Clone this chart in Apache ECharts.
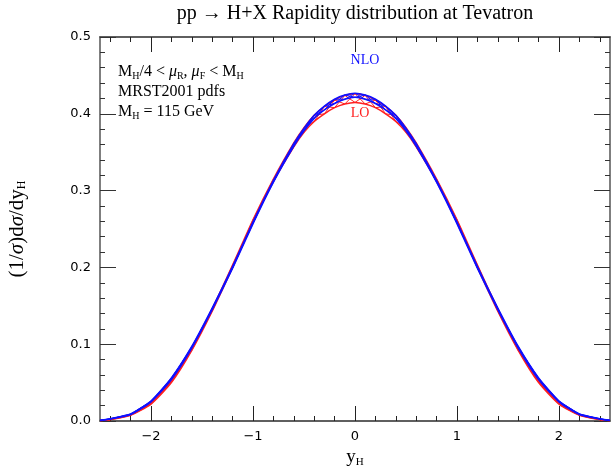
<!DOCTYPE html>
<html><head><meta charset="utf-8">
<script src="https://cdn.jsdelivr.net/npm/echarts@6/dist/echarts.min.js"></script>
<style>html,body{margin:0;padding:0;background:#fff}#c{width:611px;height:466px}</style>
</head><body><div id="c"></div>
<script>
// rapidity grid
const rapidity = [-2.5,-2.4,-2.2,-2.0,-1.8,-1.6,-1.4,-1.2,-1.0,-0.8,
  -0.6,-0.5,-0.4,-0.3,-0.2,-0.1,0,0.1,0.2,0.3,0.4,0.5,0.6,
  0.8,1.0,1.2,1.4,1.6,1.8,2.0,2.2,2.4,2.5];
// NLO band (blue)
const nloHigh = [0.0008,0.003,0.009,0.026,0.056,0.097,0.147,0.201,0.259,0.313,
  0.361,0.381,0.398,0.410,0.419,0.4245,0.4268,0.4245,0.419,0.410,0.398,0.381,0.361,
  0.313,0.259,0.201,0.147,0.097,0.056,0.026,0.009,0.003,0.0008];
const nloLow = [0.0006,0.0025,0.0085,0.025,0.054,0.095,0.145,0.199,0.257,0.311,
  0.358,0.378,0.394,0.405,0.4135,0.419,0.4215,0.419,0.4135,0.405,0.394,0.378,0.358,
  0.311,0.257,0.199,0.145,0.095,0.054,0.025,0.0085,0.0025,0.0006];
// LO band (red)
const loHigh = [0.0005,0.002,0.008,0.023,0.052,0.094,0.146,0.203,0.262,0.315,
  0.362,0.382,0.398,0.4095,0.418,0.424,0.4262,0.424,0.418,0.4095,0.398,0.382,0.362,
  0.315,0.262,0.203,0.146,0.094,0.052,0.023,0.008,0.002,0.0005];
const loLow = [0.0004,0.0018,0.0075,0.022,0.050,0.092,0.143,0.200,0.259,0.312,
  0.357,0.376,0.390,0.400,0.408,0.4128,0.4148,0.4128,0.408,0.400,0.390,0.376,0.357,
  0.312,0.259,0.200,0.143,0.092,0.050,0.022,0.0075,0.0018,0.0004];

const xMajorTicks = [-2,-1,0,1,2];
const xMinorTicks = [-2.4,-2.2,-1.8,-1.6,-1.4,-1.2,-0.8,-0.6,-0.4,-0.2,
  0.2,0.4,0.6,0.8,1.2,1.4,1.6,1.8,2.2,2.4];

const pairs = (ys) => rapidity.map((x, i) => [x, ys[i]]);
const zig = (a, b) => rapidity.map((x, i) => [x, i % 2 ? a[i] : b[i]]);

const axisColor = '#555';
const serif = 'Liberation Serif';

function lineSeries(data, color, width, smooth) {
  return { type: 'line', data, showSymbol: false, smooth: smooth, silent: true,
    lineStyle: { color, width }, animation: false, z: 3 };
}

const chart = echarts.init(document.getElementById('c'), null, { renderer: 'canvas' });

const baseX = {
  type: 'value', min: -2.5, max: 2.5, gridIndex: 0,
  splitLine: { show: false },
  axisLine: { show: true, onZero: false, lineStyle: { color: axisColor, width: 1.5 } }
};

chart.setOption({
  animation: false,
  grid: { left: 100, right: 1, top: 37, bottom: 45, containLabel: false, outerBoundsMode: 'none' },
  xAxis: [
    Object.assign({}, baseX, {
      position: 'bottom',
      name: '{i|y}{s|H}', nameLocation: 'middle', nameGap: 25,
      nameTextStyle: { rich: {
        i: { fontFamily: serif, fontSize: 19, color: '#000' },
        s: { fontFamily: serif, fontSize: 11, color: '#000', verticalAlign: 'bottom', padding: [9, 0, 0, 0] }
      } },
      axisTick: { show: true, inside: true, length: 15, customValues: xMajorTicks, lineStyle: { color: '#222' } },
      axisLabel: { show: true, customValues: xMajorTicks, margin: 9, fontSize: 13,
        fontFamily: 'DejaVu Sans', color: '#000',
        formatter: v => String(v).replace('-', '\u2212') }
    }),
    Object.assign({}, baseX, {
      position: 'bottom',
      axisTick: { show: true, inside: true, length: 5, customValues: xMinorTicks, lineStyle: { color: '#222' } },
      axisLabel: { show: false }
    }),
    Object.assign({}, baseX, {
      position: 'top',
      axisTick: { show: true, inside: true, length: 15, customValues: xMajorTicks, lineStyle: { color: '#222' } },
      axisLabel: { show: false }
    }),
    Object.assign({}, baseX, {
      position: 'top',
      axisTick: { show: true, inside: true, length: 5, customValues: xMinorTicks, lineStyle: { color: '#222' } },
      axisLabel: { show: false }
    })
  ],
  yAxis: [
    {
      type: 'value', min: 0, max: 0.5, interval: 0.1, position: 'left',
      splitLine: { show: false },
      name: '(1/{i|\u03c3})d{i|\u03c3}/dy{s|H}', nameLocation: 'middle', nameGap: 72, nameRotate: 90,
      nameTextStyle: { fontFamily: serif, fontSize: 21, color: '#000', rich: {
        i: { fontFamily: serif, fontSize: 21, fontStyle: 'italic', color: '#000' },
        s: { fontFamily: serif, fontSize: 12, color: '#000', verticalAlign: 'bottom', padding: [10, 0, 0, 0] }
      } },
      axisLine: { show: true, onZero: false, lineStyle: { color: axisColor, width: 1.5 } },
      axisTick: { show: true, inside: true, length: 16, lineStyle: { color: '#333' } },
      minorTick: { show: true, splitNumber: 5, length: 5, lineStyle: { color: '#333' } },
      axisLabel: { margin: 9, fontSize: 13, fontFamily: 'DejaVu Sans', color: '#000',
        formatter: v => v.toFixed(1) }
    },
    {
      type: 'value', min: 0, max: 0.5, interval: 0.1, position: 'right',
      splitLine: { show: false },
      axisLine: { show: true, onZero: false, lineStyle: { color: axisColor, width: 1.5 } },
      axisTick: { show: true, inside: true, length: 16, lineStyle: { color: '#333' } },
      minorTick: { show: true, splitNumber: 5, length: 5, lineStyle: { color: '#333' } },
      axisLabel: { show: false }
    }
  ],
  series: [
    lineSeries(pairs(loHigh), '#ff2020', 1.5, 0.2),
    lineSeries(pairs(loLow), '#ff2020', 1.5, 0.2),
    lineSeries(zig(loHigh, loLow), '#ff2020', 1, false),
    lineSeries(zig(loLow, loHigh), '#ff2020', 1, false),
    lineSeries(pairs(nloHigh), '#1010ff', 1.6, 0.2),
    lineSeries(pairs(nloLow), '#1010ff', 1.6, 0.2),
    lineSeries(zig(nloHigh, nloLow), '#1010ff', 1, false),
    lineSeries(zig(nloLow, nloHigh), '#1010ff', 1, false)
  ],
  graphic: [
    { type: 'text', x: 355, y: 14, style: {
        text: 'pp \u2192 H+X Rapidity distribution at Tevatron',
        fontFamily: serif, fontSize: 20, fill: '#000', align: 'center', verticalAlign: 'middle' } },
    { type: 'text', x: 118, y: 72, style: {
        text: '{m|M}{s|H}{m|/4 < }{g|\u03bc}{s|R}{m|, }{g|\u03bc}{s|F}{m| < M}{s|H}',
        verticalAlign: 'middle',
        rich: {
          m: { fontFamily: serif, fontSize: 16, color: '#000' },
          g: { fontFamily: serif, fontSize: 16, fontStyle: 'italic', color: '#000' },
          s: { fontFamily: serif, fontSize: 10, color: '#000', verticalAlign: 'bottom', padding: [8, 0, 0, 0] }
        } } },
    { type: 'text', x: 118, y: 92, style: {
        text: 'MRST2001 pdfs', fontFamily: serif, fontSize: 16, fill: '#000', verticalAlign: 'middle' } },
    { type: 'text', x: 118, y: 112, style: {
        text: '{m|M}{s|H}{m| = 115 GeV}',
        verticalAlign: 'middle',
        rich: {
          m: { fontFamily: serif, fontSize: 16, color: '#000' },
          s: { fontFamily: serif, fontSize: 10, color: '#000', verticalAlign: 'bottom', padding: [8, 0, 0, 0] }
        } } },
    { type: 'text', x: 365, y: 60, style: {
        text: 'NLO', fontFamily: serif, fontSize: 14, fill: '#1010ff', align: 'center', verticalAlign: 'middle' } },
    { type: 'text', x: 360, y: 113, style: {
        text: 'LO', fontFamily: serif, fontSize: 14, fill: '#ff2020', align: 'center', verticalAlign: 'middle' } }
  ]
});
</script>
</body></html>
